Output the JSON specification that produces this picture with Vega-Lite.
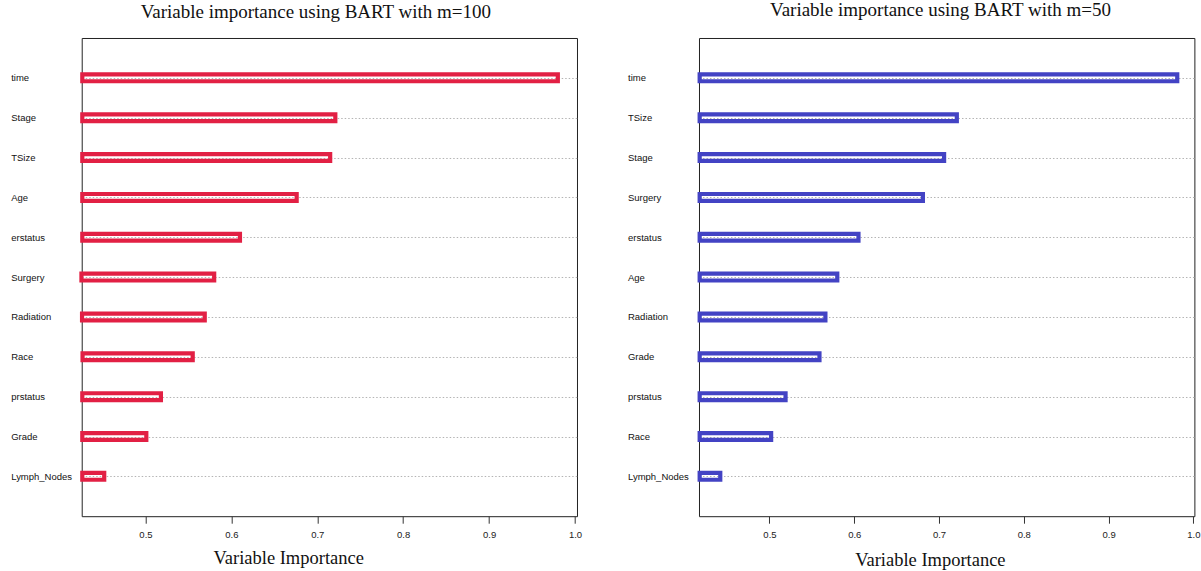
{
  "$schema": "https://vega.github.io/schema/vega-lite/v6.json",
  "background": "white",
  "padding": {"left": 9.7, "top": 0, "right": 0, "bottom": 0},
  "spacing": 44.3,
  "config": {
    "view": {"stroke": "#222", "strokeWidth": 1},
    "concat": {"spacing": 44.3}
  },
  "datasets": {
    "m100": [
      {"var": "time", "lo": 0.4265, "imp": 0.980},
      {"var": "Stage", "lo": 0.4265, "imp": 0.721},
      {"var": "TSize", "lo": 0.4265, "imp": 0.715},
      {"var": "Age", "lo": 0.4265, "imp": 0.676},
      {"var": "erstatus", "lo": 0.4265, "imp": 0.610},
      {"var": "Surgery", "lo": 0.4255, "imp": 0.580},
      {"var": "Radiation", "lo": 0.4262, "imp": 0.569},
      {"var": "Race", "lo": 0.4268, "imp": 0.555},
      {"var": "prstatus", "lo": 0.4265, "imp": 0.518},
      {"var": "Grade", "lo": 0.4265, "imp": 0.501},
      {"var": "Lymph_Nodes", "lo": 0.4265, "imp": 0.452}
    ],
    "m50": [
      {"var": "time", "lo": 0.4177, "imp": 0.981},
      {"var": "TSize", "lo": 0.4177, "imp": 0.721},
      {"var": "Stage", "lo": 0.4177, "imp": 0.706},
      {"var": "Surgery", "lo": 0.4177, "imp": 0.681},
      {"var": "erstatus", "lo": 0.4177, "imp": 0.605},
      {"var": "Age", "lo": 0.4177, "imp": 0.580},
      {"var": "Radiation", "lo": 0.4177, "imp": 0.566},
      {"var": "Grade", "lo": 0.4177, "imp": 0.559},
      {"var": "prstatus", "lo": 0.4177, "imp": 0.519},
      {"var": "Race", "lo": 0.4177, "imp": 0.502},
      {"var": "Lymph_Nodes", "lo": 0.4177, "imp": 0.442}
    ]
  },
  "hconcat": [
    {
      "width": 495.3,
      "height": 478.2,
      "title": {"text": "Variable importance using BART with m=100", "frame": "group", "anchor": "middle", "dx": -13.5, "offset": 0.9, "baseline": "alphabetic", "font": "Liberation Serif", "fontSize": 19, "fontWeight": "normal", "color": "#111"},
      "data": {"name": "m100"},
      "mark": {"type": "bar", "height": 6.8, "fill": "transparent", "stroke": "#E22044", "strokeWidth": 4.2},
      "encoding": {
        "y": {"field": "var", "type": "nominal", "sort": null, "scale": {"type": "point", "padding": 1},
          "axis": {"title": null, "domain": false, "ticks": false, "tickSize": 0, "labelAlign": "left", "labelPadding": 71, "labelFont": "Liberation Sans", "labelFontSize": 9.5, "labelColor": "#111", "grid": true, "gridDash": [1.5, 2], "gridColor": "#b4b4b4", "gridWidth": 1}},
        "x": {"field": "lo", "type": "quantitative", "scale": {"domain": [0.4258, 1.0023], "nice": false, "zero": false},
          "axis": {"title": "Variable Importance", "values": [0.5, 0.6, 0.7, 0.8, 0.9, 1.0], "format": ".1f", "grid": false, "domain": false, "tickSize": 7, "tickColor": "#333", "labelFont": "Liberation Sans", "labelFontSize": 9.5, "labelColor": "#222", "labelPadding": 6.5, "labelFlush": false, "titleFont": "Liberation Serif", "titleFontSize": 18.5, "titleFontWeight": "normal", "titleColor": "#111", "titleX": 206.5, "titleY": 47, "titleBaseline": "alphabetic"}},
        "x2": {"field": "imp"}
      }
    },
    {
      "width": 495.4,
      "height": 478.2,
      "title": {"text": "Variable importance using BART with m=50", "frame": "group", "anchor": "middle", "dx": -6.2, "offset": 2.8, "baseline": "alphabetic", "font": "Liberation Serif", "fontSize": 19, "fontWeight": "normal", "color": "#111"},
      "data": {"name": "m50"},
      "mark": {"type": "bar", "height": 6.8, "fill": "transparent", "stroke": "#4343C4", "strokeWidth": 4.2},
      "encoding": {
        "y": {"field": "var", "type": "nominal", "sort": null, "scale": {"type": "point", "padding": 1},
          "axis": {"title": null, "domain": false, "ticks": false, "tickSize": 0, "labelAlign": "left", "labelPadding": 71.5, "labelFont": "Liberation Sans", "labelFontSize": 9.5, "labelColor": "#111", "grid": true, "gridDash": [1.5, 2], "gridColor": "#b4b4b4", "gridWidth": 1}},
        "x": {"field": "lo", "type": "quantitative", "scale": {"domain": [0.4169, 1.0012], "nice": false, "zero": false},
          "axis": {"title": "Variable Importance", "values": [0.5, 0.6, 0.7, 0.8, 0.9, 1.0], "format": ".1f", "grid": false, "domain": false, "tickSize": 7, "tickColor": "#333", "labelFont": "Liberation Sans", "labelFontSize": 9.5, "labelColor": "#222", "labelPadding": 6.5, "labelFlush": false, "titleFont": "Liberation Serif", "titleFontSize": 18.5, "titleFontWeight": "normal", "titleColor": "#111", "titleX": 230.9, "titleY": 49.5, "titleBaseline": "alphabetic"}},
        "x2": {"field": "imp"}
      }
    }
  ]
}
